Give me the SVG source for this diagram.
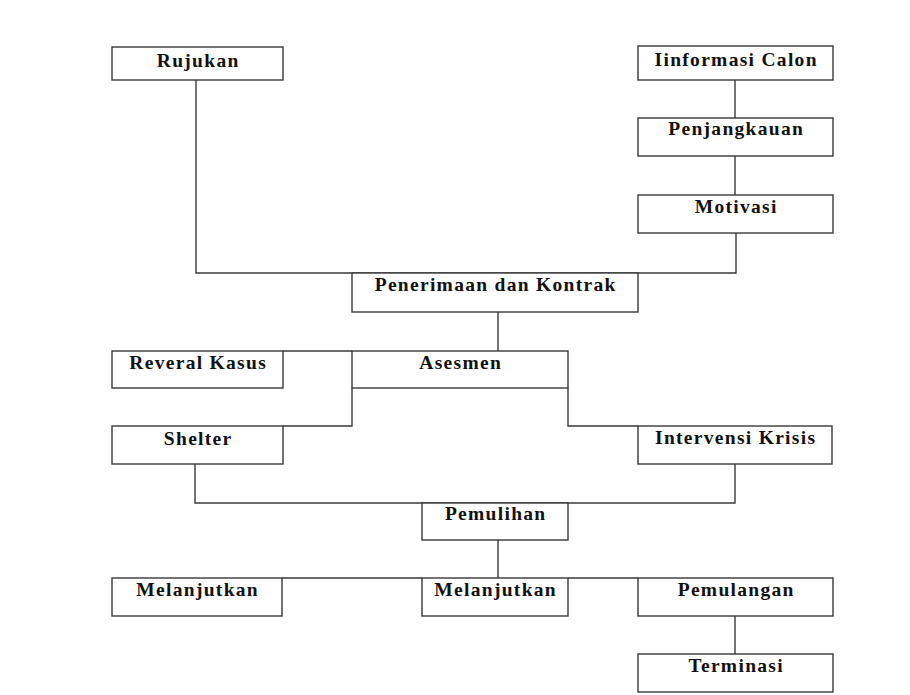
<svg xmlns="http://www.w3.org/2000/svg" width="910" height="695" viewBox="0 0 910 695">
<style>
.box{fill:#fff;stroke:#3a3a3a;stroke-width:1.4}
.ln{fill:none;stroke:#3a3a3a;stroke-width:1.4}
.t{font-family:"Liberation Serif","Times New Roman",serif;font-weight:bold;font-size:19.5px;letter-spacing:1.3px;fill:#111;text-anchor:middle}
</style>
<rect width="910" height="695" fill="#fff"/>
<g id="connectors">
<polyline class="ln" points="196,80 196,273 736,273 736,233"/>
<line class="ln" x1="735" y1="80" x2="735" y2="118"/>
<line class="ln" x1="735" y1="156" x2="735" y2="195"/>
<line class="ln" x1="498" y1="312" x2="498" y2="351"/>
<line class="ln" x1="283" y1="351" x2="352" y2="351"/>
<polyline class="ln" points="352,388 352,426 283,426"/>
<polyline class="ln" points="568,388 568,426 638,426"/>
<polyline class="ln" points="195,464 195,503 735,503 735,464"/>
<line class="ln" x1="498" y1="540" x2="498" y2="578"/>
<line class="ln" x1="282" y1="578" x2="422" y2="578"/>
<line class="ln" x1="568" y1="578" x2="638" y2="578"/>
<line class="ln" x1="735" y1="616" x2="735" y2="654"/>
</g>
<g id="rujukan"><rect class="box" x="112" y="47" width="171" height="33"/><text class="t" x="198.2" y="67">Rujukan</text></g>
<g id="informasi"><rect class="box" x="638" y="46" width="195" height="34"/><text class="t" x="736.2" y="66">Iinformasi Calon</text></g>
<g id="penjangkauan"><rect class="box" x="638" y="118" width="195" height="38"/><text class="t" x="736.2" y="135">Penjangkauan</text></g>
<g id="motivasi"><rect class="box" x="638" y="195" width="195" height="38"/><text class="t" x="736.2" y="213">Motivasi</text></g>
<g id="penerimaan"><rect class="box" x="352" y="273" width="286" height="39"/><text class="t" x="495.7" y="291">Penerimaan dan Kontrak</text></g>
<g id="reveral"><rect class="box" x="112" y="351" width="171" height="37"/><text class="t" x="198.2" y="369">Reveral Kasus</text></g>
<g id="asesmen"><rect class="box" x="352" y="351" width="216" height="37"/><text class="t" x="460.7" y="369">Asesmen</text></g>
<g id="shelter"><rect class="box" x="112" y="426" width="171" height="38"/><text class="t" x="198.2" y="445">Shelter</text></g>
<g id="intervensi"><rect class="box" x="638" y="426" width="194" height="38"/><text class="t" x="735.7" y="444">Intervensi Krisis</text></g>
<g id="pemulihan"><rect class="box" x="422" y="503" width="146" height="37"/><text class="t" x="495.7" y="520">Pemulihan</text></g>
<g id="melanjutkan1"><rect class="box" x="112" y="578" width="170" height="38"/><text class="t" x="197.7" y="596">Melanjutkan</text></g>
<g id="melanjutkan2"><rect class="box" x="422" y="578" width="146" height="38"/><text class="t" x="495.7" y="596">Melanjutkan</text></g>
<g id="pemulangan"><rect class="box" x="638" y="578" width="195" height="38"/><text class="t" x="736.2" y="596">Pemulangan</text></g>
<g id="terminasi"><rect class="box" x="638" y="654" width="195" height="38"/><text class="t" x="736.2" y="672">Terminasi</text></g>
</svg>
